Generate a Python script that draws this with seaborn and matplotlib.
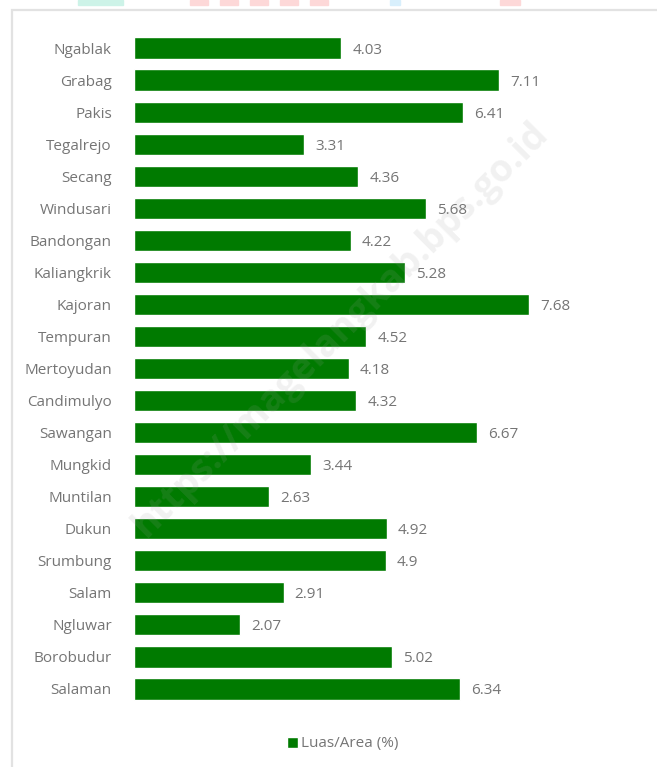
import matplotlib
matplotlib.use("Agg")
import matplotlib.pyplot as plt
import seaborn as sns
import pandas as pd
from matplotlib.patches import Rectangle

categories = ["Ngablak", "Grabag", "Pakis", "Tegalrejo", "Secang", "Windusari",
              "Bandongan", "Kaliangkrik", "Kajoran", "Tempuran", "Mertoyudan",
              "Candimulyo", "Sawangan", "Mungkid", "Muntilan", "Dukun",
              "Srumbung", "Salam", "Ngluwar", "Borobudur", "Salaman"]
values = [4.03, 7.11, 6.41, 3.31, 4.36, 5.68, 4.22, 5.28, 7.68, 4.52, 4.18,
          4.32, 6.67, 3.44, 2.63, 4.92, 4.9, 2.91, 2.07, 5.02, 6.34]
value_labels = ["4.03", "7.11", "6.41", "3.31", "4.36", "5.68", "4.22", "5.28",
                "7.68", "4.52", "4.18", "4.32", "6.67", "3.44", "2.63", "4.92",
                "4.9", "2.91", "2.07", "5.02", "6.34"]
series_name = "Luas/Area (%)"

sns.set_theme(style="white")
plt.rcParams["font.family"] = ["Open Sans", "DejaVu Sans"]

W, H = 657, 767
fig = plt.figure(figsize=(W / 100, H / 100), dpi=100)

GREEN = "#007a00"
TXT = "#757575"

# outer border
fig.patches.append(Rectangle((12 / W, -0.05), 1.2, 1 - 10 / H + 0.05,
                             transform=fig.transFigure, fill=False,
                             edgecolor="#e2e2e2", linewidth=1.6, zorder=0))
# top decorative fragments
for x0, x1, c in [(78, 123, "#cdf3e8"), (190, 208, "#fdd8d8"), (220, 238, "#fdd8d8"),
                  (250, 268, "#fdd8d8"), (280, 298, "#fdd8d8"), (310, 328, "#fdd8d8"),
                  (390, 400, "#d8effc"), (500, 520, "#fdd8d8")]:
    fig.patches.append(Rectangle((x0 / W, 1 - 5 / H), (x1 - x0) / W, 5 / H,
                                 transform=fig.transFigure, color=c, zorder=0))

ax_left, ax_right = 134, 620
ax_top, ax_bot = 32, 705
ax = fig.add_axes([ax_left / W, 1 - ax_bot / H, (ax_right - ax_left) / W, (ax_bot - ax_top) / H])

df = pd.DataFrame({"cat": categories, "val": values})
sns.barplot(data=df, y="cat", x="val", orient="h", color=GREEN, saturation=1,
            width=0.66, ax=ax, label=series_name)

ax.set_xlim(0, (ax_right - ax_left) / 51.4)
ax.set_ylim(len(categories) - 0.5, -0.5)
for s in ax.spines.values():
    s.set_visible(False)
ax.set_xticks([])
ax.set_xlabel("")
ax.set_ylabel("")
ax.tick_params(axis="y", length=0, pad=16, labelsize=11, labelcolor=TXT)
ax.patch.set_alpha(0)

for i, (v, lab) in enumerate(zip(values, value_labels)):
    ax.annotate(lab, (v, i), xytext=(8, 0), textcoords="offset points",
                va="center_baseline", ha="left", fontsize=11, color=TXT)

leg = ax.legend(loc="center", bbox_to_anchor=(343 / W, 1 - 744 / H),
                bbox_transform=fig.transFigure, frameon=False, fontsize=11,
                handlelength=0.7, handleheight=0.7, handletextpad=0.2)
for t in leg.get_texts():
    t.set_color(TXT)

fig.text(340 / W, 1 - 330 / H, "https://magelangkab.bps.go.id", rotation=45,
         ha="center", va="center", fontsize=27, color="#a0a0a0", alpha=0.14,
         fontweight="bold", zorder=0)

fig.savefig("out.png", dpi=100)
